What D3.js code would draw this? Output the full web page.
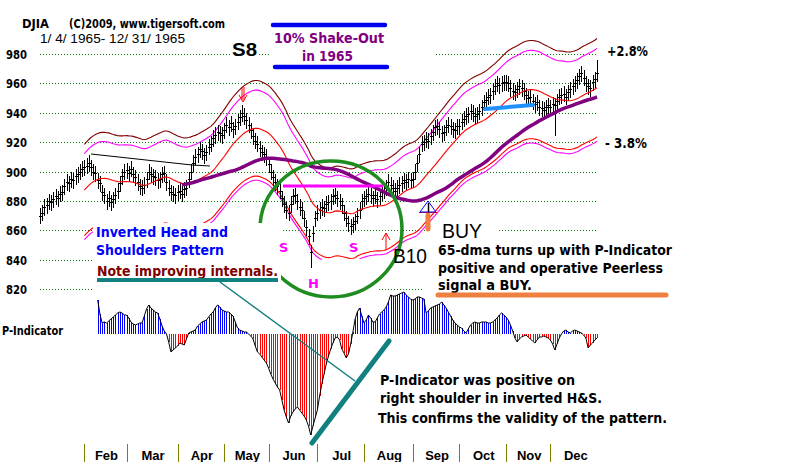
<!DOCTYPE html>
<html>
<head>
<meta charset="utf-8">
<script src="https://cdn.jsdelivr.net/npm/d3@7/dist/d3.min.js"></script>
<style>
    body { margin: 0; background: #fff; }
    svg { display: block; font-family: "DejaVu Sans", Verdana, sans-serif; }
</style>
</head>
<body>
<svg id="chart" width="800" height="462"></svg>
<script>
// DJIA daily closes 1965, one array per month
const closeJan = [870, 872, 876, 877, 880, 879, 881, 883, 882, 885, 886, 890, 893, 892, 895, 894, 897, 898, 900, 902]
const closeFeb = [903, 904, 906, 903, 900, 899, 894, 892, 886, 884, 880, 882, 879, 881, 884, 887, 892, 897, 900]
const closeMar = [901, 899, 902, 898, 896, 893, 890, 889, 891, 895, 900, 898, 897, 896, 894, 895, 898, 899, 893, 889, 886, 885, 884]
const closeApr = [886, 887, 885, 888, 889, 895, 900, 906, 910, 912, 915, 914, 911, 913, 917, 919, 923, 925, 927, 926, 925]
const closeMay = [928, 932, 930, 933, 929, 931, 934, 937, 940, 938, 935, 932, 928, 924, 921, 919, 916, 913, 912, 910]
const closeJun = [905, 900, 896, 893, 890, 887, 882, 878, 874, 872, 878, 883, 884, 880, 876, 874, 868, 862, 856, 845, 858, 868]
const closeJul = [872, 874, 876, 875, 878, 879, 880, 883, 884, 882, 880, 877, 872, 868, 865, 863, 864, 866, 870, 874, 880]
const closeAug = [882, 883, 885, 884, 882, 884, 881, 883, 886, 887, 889, 893, 891, 889, 887, 889, 891, 892, 894, 893, 895, 894]
const closeSep = [895, 900, 906, 912, 919, 920, 922, 921, 924, 927, 930, 931, 929, 926, 927, 930, 932, 931, 929, 928, 931]
const closeOct = [931, 934, 936, 938, 939, 941, 940, 938, 939, 941, 944, 947, 949, 951, 952, 955, 958, 960, 959, 960, 961]
const closeNov = [961, 960, 957, 955, 954, 956, 958, 957, 955, 952, 950, 951, 948, 946, 947, 944, 943, 942, 944, 945]
const closeDec = [944, 946, 945, 948, 951, 952, 953, 951, 954, 956, 958, 960, 962, 965, 967, 964, 960, 958, 957, 961, 963, 967]
// bars whose range runs far past the usual one: [day index, extreme]
const barExtremes = [[122, 834], [232, 924], [251, 976]]

// P-Indicator, starts at trading day 26 (early Feb)
const pStart = 26
const pFeb = [34, 20, 11, 12, 11, 13, 15, 17, 19, 21, 22, 21, 19]
const pMar = [19, 16, 12, 10, 9, 10, 11, 11, 18, 25, 29, 26, 24, 22, 21, 15, 8, 3, 0, -8, -18, -16, -14]
const pApr = [-12, -9, -10, -11, -5, 1, 2, 3, 4, 8, 10, 12, 13, 14, 17, 20, 22, 26, 29, 27, 24]
const pMay = [23, 22, 22, 20, 18, 12, 6, 4, 3, 2, 2, 0, -2, -5, -12, -18, -20, -23, -26, -29]
const pJun = [-34, -40, -45, -49, -53, -56, -66, -76, -83, -89, -82, -78, -75, -73, -76, -79, -82, -86, -92, -101, -92, -84]
const pJul = [-76, -62, -50, -40, -30, -22, -15, -9, -4, -3, -6, -15, -19, -24, -20, -10, 2, 15, 22, 26, 18]
const pAug = [11, 14, 19, 16, 12, 12, 16, 20, 22, 24, 27, 32, 39, 38, 38, 39, 40, 41, 42, 39, 37, 35]
const pSep = [34, 35, 37, 37, 36, 35, 21, 23, 26, 27, 28, 29, 30, 32, 29, 26, 22, 18, 14, 11, 9]
const pOct = [7, 6, 3, 1, 5, 9, 11, 12, 11, 11, 12, 12, 12, 11, 11, 12, 14, 16, 19, 21, 19]
const pNov = [17, 14, 9, 3, -4, -8, -5, -3, -2, -1, -3, -5, -7, -9, -6, -3, -3, -2, -3, -4]
const pDec = [-6, -10, -16, -10, -4, 0, 3, 4, 2, 1, 3, 4, 3, 2, 1, -1, -4, -14, -11, -9, -6, -4]

const monthNames = ["Jan", "Feb", "Mar", "Apr", "May", "Jun", "Jul", "Aug", "Sep", "Oct", "Nov", "Dec"]
const priceTicks = [820, 840, 860, 880, 900, 920, 940, 960, 980]

const monthCloses = [closeJan, closeFeb, closeMar, closeApr, closeMay, closeJun, closeJul, closeAug, closeSep, closeOct, closeNov, closeDec]
const closes = [].concat(...monthCloses)
const pValues = [].concat(pFeb, pMar, pApr, pMay, pJun, pJul, pAug, pSep, pOct, pNov, pDec)
const N = closes.length

const monthStarts = []
monthCloses.reduce((acc, m) => { monthStarts.push(acc); return acc + m.length }, 0)
monthStarts.push(N)

const svg = d3.select("#chart")
const x = d3.scaleLinear().domain([0, N - 1]).range([40, 597])
const y = d3.scaleLinear().domain([820, 980]).range([289, 54])
const yP = d3.scaleLinear().domain([0, 40]).range([334, 294])

const sma = (arr, n) => arr.map((d, i) => (i < n - 1 ? null : d3.mean(arr.slice(i - n + 1, i + 1))))
const ma21 = sma(closes, 21)
const ma65 = sma(closes, 65)
const arial = "Arial, 'Liberation Sans', sans-serif"

// grid
svg.append("g")
    .selectAll("line")
    .data(priceTicks)
    .join("line")
    .attr("x1", 40).attr("x2", 598)
    .attr("y1", (d) => Math.round(y(d)) + 0.5).attr("y2", (d) => Math.round(y(d)) + 0.5)
    .attr("stroke", "#008000")
    .attr("stroke-dasharray", "1,2")

// white areas behind the pasted notes (hide grid only)
const masks = [
    [231, 40, 27, 18], [271, 12, 163, 64],
    [93, 254, 337, 12], [93, 284, 284, 10],
    [430, 214, 67, 30], [423, 243, 377, 55]
]
svg.append("g")
    .selectAll("rect")
    .data(masks)
    .join("rect")
    .attr("x", (d) => d[0]).attr("y", (d) => d[1])
    .attr("width", (d) => d[2]).attr("height", (d) => d[3])
    .attr("fill", "#fff")

// y labels
svg.append("g")
    .selectAll("text")
    .data(priceTicks)
    .join("text")
    .attr("x", 6)
    .attr("y", (d) => y(d) + 5)
    .attr("font-size", 13)
    .attr("font-weight", "bold")
    .attr("textLength", 21)
    .attr("lengthAdjust", "spacingAndGlyphs")
    .text((d) => d)

// bands around the 21-dma
const bands = [
    { k: 1.035, color: "#800000" },
    { k: 1.028, color: "#ff00ff" },
    { k: 0.965, color: "#ff0000" },
    { k: 0.962, color: "#ff00ff" },
]
bands.forEach((b) => {
    const line = d3.line()
        .defined((d) => d !== null && d * b.k >= 840)
        .x((d, i) => x(i))
        .y((d) => y(d * b.k))
    svg.append("path")
        .attr("d", line(ma21))
        .attr("fill", "none")
        .attr("stroke", b.color)
        .attr("stroke-width", 1.1)
})

// price bars
const extremes = new Map(barExtremes)
const bars = svg.append("g").attr("stroke", "#000").attr("shape-rendering", "crispEdges")
closes.forEach((c, i) => {
    let hi = c + 5
    let lo = c - 6
    if (extremes.has(i)) {
        const e = extremes.get(i)
        if (e > c) hi = e
        else lo = e
    }
    const xi = Math.round(x(i)) + 0.5
    bars.append("line").attr("x1", xi).attr("x2", xi).attr("y1", y(hi)).attr("y2", y(lo))
    bars.append("line").attr("x1", xi - 1.5).attr("x2", xi + 1.5)
        .attr("y1", Math.round(y(c)) + 0.5).attr("y2", Math.round(y(c)) + 0.5)
})

// moving averages
svg.append("path")
    .attr("d", d3.line().defined((d) => d !== null).x((d, i) => x(i)).y((d) => y(d))(ma21))
    .attr("fill", "none").attr("stroke", "#ff0000").attr("stroke-width", 1.1)
svg.append("path")
    .attr("d", d3.line().defined((d) => d !== null).x((d, i) => x(i)).y((d) => y(d))(ma65))
    .attr("fill", "none").attr("stroke", "#800080").attr("stroke-width", 3.5)

// trendlines drawn on the chart
svg.append("polyline")
    .attr("points", "91,154 192,165 210,166")
    .attr("fill", "none").attr("stroke", "#000").attr("stroke-width", 1)
svg.append("line")
    .attr("x1", 485).attr("y1", 109).attr("x2", 533).attr("y2", 105)
    .attr("stroke", "#1e90ff").attr("stroke-width", 4).attr("stroke-linecap", "round")
svg.append("line")
    .attr("x1", 283).attr("y1", 186).attr("x2", 383).attr("y2", 186)
    .attr("stroke", "#ff00ff").attr("stroke-width", 3)
svg.append("ellipse")
    .attr("cx", 331).attr("cy", 229).attr("rx", 71).attr("ry", 68)
    .attr("fill", "none").attr("stroke", "#1f8c1f").attr("stroke-width", 3.5)

// P-Indicator
const pInd = svg.append("g").attr("shape-rendering", "crispEdges")
pValues.forEach((v, j) => {
    const xi = Math.round(x(pStart + j)) + 0.5
    pInd.append("line")
        .attr("x1", xi).attr("x2", xi)
        .attr("y1", yP(0)).attr("y2", yP(v))
        .attr("stroke", v >= 0 ? "#0000ff" : "#ff0000")
})
svg.append("path")
    .attr("d", d3.line().x((d, j) => x(pStart + j)).y((d) => yP(d))(pValues))
    .attr("fill", "none").attr("stroke", "#000").attr("stroke-width", 1)

// month axis
const ax = svg.append("g")
monthStarts.slice(1, 12).forEach((s) => {
    const xi = Math.round(x(s)) + 0.5
    ax.append("line").attr("x1", xi).attr("x2", xi).attr("y1", 444).attr("y2", 462)
        .attr("stroke", "#808000").attr("stroke-width", 1)
})
monthNames.slice(1).forEach((m, k) => {
    const a = monthStarts[k + 1]
    const b = monthStarts[k + 2]
    ax.append("text")
        .attr("x", (x(a) + x(b)) / 2 + 1)
        .attr("y", 460)
        .attr("text-anchor", "middle")
        .attr("font-family", arial)
        .attr("font-size", 13)
        .attr("font-weight", "bold")
        .text(m)
})

// annotations
const txt = (s, tx, ty, size, opts = {}) => {
    const t = svg.append("text")
        .attr("x", tx).attr("y", ty)
        .attr("font-size", size)
        .attr("font-weight", opts.weight || "bold")
        .attr("fill", opts.fill || "#000")
        .text(s)
    if (opts.family) t.attr("font-family", opts.family)
    if (opts.w) t.attr("textLength", opts.w).attr("lengthAdjust", "spacingAndGlyphs")
    return t
}

// white box of the H&S note covers the lower bands
svg.append("rect").attr("x", 93).attr("y", 223).attr("width", 188).attr("height", 61).attr("fill", "#fff")

txt("DJIA", 22, 28, 11.5, { w: 27 })
txt("(C)2009, www.tigersoft.com", 69, 28, 11.5, { w: 156 })
txt("1/ 4/ 1965- 12/ 31/ 1965", 40, 43, 12.5, { w: 145, weight: "normal", family: arial })
txt("S8", 232, 56, 19, { w: 25, family: arial })

svg.append("line").attr("x1", 273).attr("y1", 25).attr("x2", 385).attr("y2", 25)
    .attr("stroke", "#0000ee").attr("stroke-width", 4.5).attr("stroke-linecap", "round")
svg.append("line").attr("x1", 275).attr("y1", 67).attr("x2", 387).attr("y2", 67)
    .attr("stroke", "#0000ee").attr("stroke-width", 4.5).attr("stroke-linecap", "round")
txt("10% Shake-Out", 274, 43, 14, { w: 110, fill: "#800080" })
txt("in 1965", 302, 61, 14, { w: 51, fill: "#800080" })

txt("+2.8%", 607, 56, 14, { w: 41 })
txt("- 3.8%", 605, 148, 14, { w: 42 })

txt("Inverted Head and", 96, 237, 14, { w: 132, fill: "#0000ff" })
txt("Shoulders Pattern", 96, 255, 14, { w: 128, fill: "#0000ff" })
txt("Note improving internals.", 97, 276, 14, { w: 181, fill: "#800000" })
svg.append("line").attr("x1", 97).attr("y1", 280).attr("x2", 278).attr("y2", 280)
    .attr("stroke", "#108080").attr("stroke-width", 4)
svg.append("line").attr("x1", 220).attr("y1", 282).attr("x2", 355).attr("y2", 381)
    .attr("stroke", "#108080").attr("stroke-width", 1.5)
svg.append("line").attr("x1", 312).attr("y1", 443).attr("x2", 389).attr("y2", 341)
    .attr("stroke", "#108080").attr("stroke-width", 5).attr("stroke-linecap", "round")

txt("S", 279, 252, 13, { fill: "#ff00ff" })
txt("S", 349, 252, 13, { fill: "#ff00ff" })
txt("H", 308, 288, 13, { fill: "#ff00ff" })
txt("B10", 393, 263, 21, { w: 34, weight: "normal", family: arial })
txt("BUY", 442, 238, 21, { w: 40, weight: "normal", family: arial })

// signal arrows
const red = svg.append("g").attr("stroke", "#ff0000").attr("fill", "none").attr("stroke-width", 1)
red.append("line").attr("x1", 242).attr("y1", 87).attr("x2", 242).attr("y2", 100)
red.append("line").attr("x1", 244).attr("y1", 87).attr("x2", 244).attr("y2", 100)
red.append("polyline").attr("points", "239,95 243,102 247,95")
red.append("line").attr("x1", 386).attr("y1", 233).attr("x2", 386).attr("y2", 250)
red.append("polyline").attr("points", "382,240 386,233 390,240")
red.append("line").attr("x1", 419).attr("y1", 212.5).attr("x2", 437).attr("y2", 212.5)
svg.append("line").attr("x1", 428).attr("y1", 215).attr("x2", 428).attr("y2", 229)
    .attr("stroke", "#f08040").attr("stroke-width", 5).attr("stroke-linecap", "round")
svg.append("polygon").attr("points", "428,201 420,212 436,212")
    .attr("fill", "none").attr("stroke", "#0000ff").attr("stroke-width", 1)
svg.append("line").attr("x1", 428.5).attr("y1", 203).attr("x2", 428.5).attr("y2", 212)
    .attr("stroke", "#000").attr("stroke-width", 1.5)

txt("65-dma turns up with P-Indicator", 438, 255, 14, { w: 234 })
txt("positive and operative Peerless", 438, 273, 14, { w: 225 })
txt("signal a BUY.", 438, 290, 14, { w: 94 })
svg.append("line").attr("x1", 438).attr("y1", 295).attr("x2", 666).attr("y2", 295)
    .attr("stroke", "#f08040").attr("stroke-width", 5).attr("stroke-linecap", "round")

txt("P-Indicator", 2, 335, 13, { w: 61 })
txt("P-Indicator was positive on", 380, 385, 14, { w: 195 })
txt("right shoulder in inverted H&S.", 380, 403, 14, { w: 222 })
txt("This confirms the validity of the pattern.", 378, 423, 14, { w: 289 })
</script>
</body>
</html>
